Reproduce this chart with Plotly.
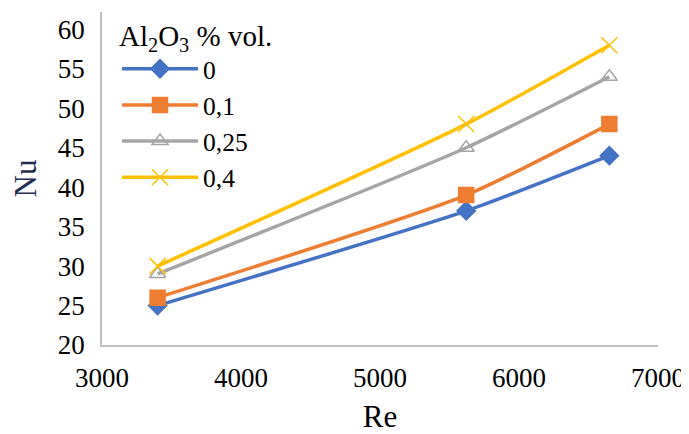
import plotly.graph_objects as go

re_vals = [3400, 5620, 6650]
series_names = ["0", "0,1", "0,25", "0,4"]
nu_0 = [25, 37, 44]
nu_01 = [26, 39, 48]
nu_025 = [29, 45, 54]
nu_04 = [30, 48, 58]
y_ticks = [20, 25, 30, 35, 40, 45, 50, 55, 60]
x_ticks = [3000, 4000, 5000, 6000, 7000]

colors = ["#4472C4", "#ED7D31", "#A5A5A5", "#FFC000"]
symbols = ["diamond", "square", "triangle-up-open", "x-thin-open"]
sizes = [14, 15, 14, 16]

fig = go.Figure()
for name, ys, c, s, sz in zip(series_names, [nu_0, nu_01, nu_025, nu_04], colors, symbols, sizes):
    fig.add_trace(go.Scatter(
        x=re_vals, y=ys, name=name, mode="lines+markers",
        line=dict(color=c, width=3.5, shape="spline", smoothing=0.6),
        marker=dict(symbol=s, size=sz, color=c, line=dict(color=c, width=1.5)),
    ))

font_family = "Liberation Serif, Times New Roman, serif"
fig.update_layout(
    width=681, height=426,
    margin=dict(l=94, r=31, t=0, b=89),
    paper_bgcolor="white", plot_bgcolor="white",
    font=dict(family=font_family, size=27, color="black"),
    showlegend=True,
    legend=dict(
        title=dict(text="Al<sub>2</sub>O<sub>3</sub> % vol.", font=dict(size=29)),
        x=0.027, y=1.0, xanchor="left", yanchor="top",
        bgcolor="rgba(0,0,0,0)", font=dict(size=25.5),
        tracegroupgap=0, itemwidth=76,
    ),
    xaxis=dict(
        range=[3000, 7000], tickvals=x_ticks, showgrid=False, zeroline=False,
        showline=True, linecolor="#BFBFBF", linewidth=1.5, ticks="",
        tickfont=dict(size=27), ticklabelstandoff=8, automargin=False,
        title=dict(text="Re", font=dict(size=31), standoff=26),
    ),
    yaxis=dict(
        range=[20, 62.2], tickvals=y_ticks, showgrid=False, zeroline=False,
        domain=[0, 0.988],
        showline=True, linecolor="#BFBFBF", linewidth=1.5, ticks="",
        tickfont=dict(size=27), ticklabelstandoff=10, automargin=False,
        title=dict(text="Nu", font=dict(size=31, color="#1F2D4F"), standoff=16),
    ),
)

fig.write_html("out.html")
